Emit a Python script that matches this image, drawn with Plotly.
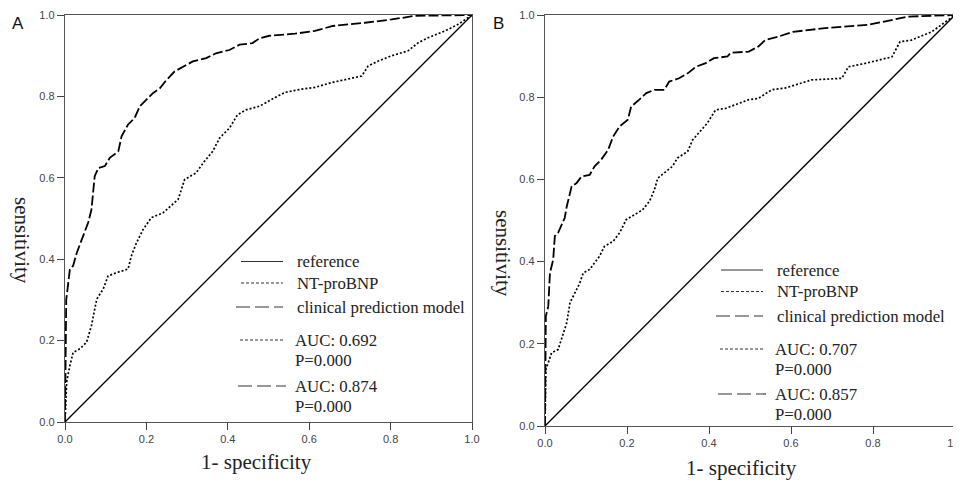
import plotly.graph_objects as go

# ---------------- data ----------------
# Panel A
a_clin_fpr = [0, 0.003, 0.012, 0.02, 0.029, 0.045, 0.057, 0.065, 0.073, 0.082, 0.098, 0.11, 0.131, 0.139,
              0.155, 0.171, 0.184, 0.2, 0.216, 0.233, 0.249, 0.269, 0.29, 0.314, 0.347, 0.371, 0.404, 0.429,
              0.461, 0.478, 0.502, 0.565, 0.614, 0.658, 0.737, 0.803, 0.86, 1.0]
a_clin_tpr = [0, 0.30, 0.375, 0.384, 0.416, 0.457, 0.49, 0.522, 0.604, 0.624, 0.629, 0.649, 0.665, 0.702,
              0.731, 0.747, 0.776, 0.792, 0.808, 0.82, 0.84, 0.861, 0.873, 0.886, 0.894, 0.906, 0.914, 0.927,
              0.931, 0.943, 0.949, 0.954, 0.961, 0.973, 0.981, 0.989, 0.998, 1.0]
a_nt_fpr = [0, 0.004, 0.012, 0.02, 0.037, 0.053, 0.065, 0.078, 0.094, 0.106, 0.127, 0.155, 0.163, 0.176,
            0.192, 0.212, 0.241, 0.261, 0.278, 0.294, 0.322, 0.343, 0.363, 0.38, 0.404, 0.424, 0.445, 0.478,
            0.502, 0.516, 0.541, 0.582, 0.614, 0.655, 0.729, 0.745, 0.77, 0.803, 0.843, 0.868, 0.892, 0.934,
            0.966, 1.0]
a_nt_tpr = [0, 0.098, 0.139, 0.171, 0.18, 0.196, 0.237, 0.302, 0.327, 0.359, 0.367, 0.376, 0.408, 0.441,
            0.473, 0.502, 0.514, 0.531, 0.547, 0.596, 0.612, 0.641, 0.665, 0.698, 0.722, 0.755, 0.767, 0.776,
            0.788, 0.797, 0.81, 0.818, 0.822, 0.834, 0.85, 0.875, 0.887, 0.9, 0.912, 0.932, 0.944, 0.961,
            0.977, 1.0]
a_auc = ["AUC: 0.692", "AUC: 0.874"]

# Panel B
b_clin_fpr = [0, 0.002, 0.008, 0.012, 0.02, 0.024, 0.032, 0.04, 0.048, 0.053, 0.065, 0.077, 0.089, 0.109,
              0.121, 0.137, 0.154, 0.166, 0.182, 0.202, 0.21, 0.23, 0.247, 0.267, 0.291, 0.303, 0.327, 0.348,
              0.368, 0.392, 0.412, 0.445, 0.453, 0.497, 0.52, 0.537, 0.568, 0.605, 0.65, 0.683, 0.788, 0.846,
              0.885, 1.0]
b_clin_tpr = [0, 0.267, 0.291, 0.372, 0.405, 0.462, 0.47, 0.486, 0.506, 0.534, 0.583, 0.591, 0.607, 0.611,
              0.632, 0.648, 0.672, 0.704, 0.729, 0.745, 0.777, 0.794, 0.81, 0.818, 0.818, 0.838, 0.846, 0.858,
              0.874, 0.883, 0.895, 0.899, 0.908, 0.911, 0.923, 0.939, 0.947, 0.959, 0.964, 0.968, 0.976, 0.988,
              0.996, 1.0]
b_nt_fpr = [0, 0.002, 0.008, 0.016, 0.032, 0.04, 0.053, 0.061, 0.073, 0.085, 0.093, 0.109, 0.121, 0.133,
            0.145, 0.166, 0.182, 0.198, 0.218, 0.238, 0.255, 0.267, 0.275, 0.291, 0.311, 0.323, 0.348, 0.36,
            0.372, 0.396, 0.416, 0.441, 0.473, 0.497, 0.52, 0.553, 0.585, 0.626, 0.65, 0.724, 0.74, 0.78,
            0.846, 0.866, 0.894, 0.943, 1.0]
b_nt_tpr = [0, 0.138, 0.154, 0.178, 0.186, 0.21, 0.251, 0.3, 0.324, 0.348, 0.372, 0.381, 0.397, 0.413,
            0.437, 0.449, 0.47, 0.502, 0.514, 0.526, 0.547, 0.575, 0.603, 0.615, 0.632, 0.652, 0.668, 0.696,
            0.709, 0.737, 0.769, 0.773, 0.785, 0.794, 0.797, 0.818, 0.822, 0.834, 0.842, 0.846, 0.874, 0.882,
            0.898, 0.935, 0.939, 0.959, 1.0]
b_auc = ["AUC: 0.707", "AUC: 0.857"]

ref_x = [0, 1]
ref_y = [0, 1]
ticks = [0, 0.2, 0.4, 0.6, 0.8, 1.0]
tick_text = ["0.0", "0.2", "0.4", "0.6", "0.8", "1.0"]
legend_names = ["reference", "NT-proBNP", "clinical prediction model"]
p_text = "P=0.000"
x_title = "1- specificity"
y_title = "sensitivity"
panel_labels = ["A", "B"]

# ---------------- figure ----------------
W, H = 961, 481
OFF = 8  # the page body offsets the figure by 8px
fig = go.Figure()

SERIF = "Liberation Serif, Times New Roman, serif"
SANS = "Liberation Sans, Arial, sans-serif"


def px_x(px):
    return (px - OFF) / W


def px_y(py):
    return 1 - (py - OFF) / H


panels = [
    dict(xa="x", ya="y", clin=(a_clin_fpr, a_clin_tpr), nt=(a_nt_fpr, a_nt_tpr), auc=a_auc),
    dict(xa="x2", ya="y2", clin=(b_clin_fpr, b_clin_tpr), nt=(b_nt_fpr, b_nt_tpr), auc=b_auc),
]

for p in panels:
    fig.add_trace(go.Scatter(x=ref_x, y=ref_y, mode="lines", xaxis=p["xa"], yaxis=p["ya"],
                             line=dict(color="black", width=1.3), showlegend=False, hoverinfo="skip"))
    fig.add_trace(go.Scatter(x=p["nt"][0], y=p["nt"][1], mode="lines", xaxis=p["xa"], yaxis=p["ya"],
                             line=dict(color="black", width=1.7, dash="2px,2px"), showlegend=False))
    fig.add_trace(go.Scatter(x=p["clin"][0], y=p["clin"][1], mode="lines", xaxis=p["xa"], yaxis=p["ya"],
                             line=dict(color="black", width=1.8, dash="10px,3px"), showlegend=False))

# pixel geometry of the two panels (target picture pixels)
geo = [
    dict(x0=65, x1=472, y0=422, y1=15),
    dict(x0=545, x1=955, y0=426, y1=15),
]

axis_common = dict(range=[0, 1], tickvals=ticks, ticktext=tick_text, showgrid=False, zeroline=False,
                   showline=True, linecolor="#555", linewidth=1.3, mirror=True, automargin=False,
                   ticks="outside", ticklen=7, tickwidth=1.2, tickcolor="#444",
                   ticklabeloverflow="allow",
                   tickfont=dict(family=SANS, size=11, color="#444"), fixedrange=True)

for i, g in enumerate(geo):
    sfx = "" if i == 0 else str(i + 1)
    fig.layout["xaxis" + sfx] = dict(axis_common, domain=[px_x(g["x0"]), px_x(g["x1"])], anchor="y" + sfx)
    fig.layout["yaxis" + sfx] = dict(axis_common, domain=[px_y(g["y0"]), px_y(g["y1"])], anchor="x" + sfx)

# legend blocks (text in pixel rows, converted to domain coords)
leg = [
    dict(line_x=(241, 283), text_x=295, auc_x=293,
         rows=[261.5, 283, 307, 340, 360, 386, 406]),
    dict(line_x=(721, 763), text_x=775, auc_x=773,
         rows=[270, 291.5, 316, 349, 369, 394, 414]),
]

annotations = []
shapes = []
for i, (g, lg, p) in enumerate(zip(geo, leg, panels)):
    sfx = "" if i == 0 else str(i + 1)
    xr, yr = "x" + sfx + " domain", "y" + sfx + " domain"

    def dx(px):
        return (px - g["x0"]) / (g["x1"] - g["x0"])

    def dy(py):
        return (g["y0"] - py) / (g["y0"] - g["y1"])

    texts = legend_names + [p["auc"][0], p_text, p["auc"][1], p_text]
    for k, t in enumerate(texts):
        tx = lg["text_x"] if k < 3 else lg["auc_x"]
        annotations.append(dict(xref=xr, yref=yr, x=dx(tx), y=dy(lg["rows"][k]), text=t, showarrow=False,
                                xanchor="left", yanchor="middle",
                                font=dict(family=SERIF, size=16.8, color="#222")))
    styles = {0: ("solid", 1.1, lg["line_x"][0]),
              1: ("3px,2px", 1.0, lg["line_x"][0]),
              2: ("14px,5px", 1.2, lg["line_x"][0] - 5),
              3: ("3px,2px", 1.0, lg["line_x"][0] - 1),
              5: ("14px,5px", 1.2, lg["line_x"][0] - 3)}
    for k, (dsh, w, xs) in styles.items():
        xe = lg["line_x"][1] + (3 if k == 5 else 0)
        shapes.append(dict(type="line", xref=xr, yref=yr, x0=dx(xs), x1=dx(xe),
                           y0=dy(lg["rows"][k]), y1=dy(lg["rows"][k]),
                           line=dict(color="#333", width=w, dash=dsh)))

annotations += [
    dict(xref="paper", yref="paper", x=px_x(257), y=px_y(462), text=x_title, showarrow=False,
         xanchor="center", yanchor="middle", font=dict(family=SERIF, size=21, color="#222")),
    dict(xref="paper", yref="paper", x=px_x(741), y=px_y(468), text=x_title, showarrow=False,
         xanchor="center", yanchor="middle", font=dict(family=SERIF, size=21, color="#222")),
    dict(xref="paper", yref="paper", x=px_x(22), y=px_y(240), text=y_title, showarrow=False, textangle=90,
         xanchor="center", yanchor="middle", font=dict(family=SERIF, size=21, color="#222")),
    dict(xref="paper", yref="paper", x=px_x(503), y=px_y(253), text=y_title, showarrow=False, textangle=90,
         xanchor="center", yanchor="middle", font=dict(family=SERIF, size=21, color="#222")),
    dict(xref="paper", yref="paper", x=px_x(18), y=px_y(23), text=panel_labels[0], showarrow=False,
         xanchor="center", yanchor="middle", font=dict(family=SANS, size=17, color="#111")),
    dict(xref="paper", yref="paper", x=px_x(498), y=px_y(23), text=panel_labels[1], showarrow=False,
         xanchor="center", yanchor="middle", font=dict(family=SANS, size=17, color="#111")),
]

fig.update_layout(width=W, height=H, margin=dict(l=0, r=0, t=0, b=0, pad=0, autoexpand=False),
                  paper_bgcolor="white", plot_bgcolor="white", showlegend=False,
                  annotations=annotations, shapes=shapes)

fig.write_html("out.html", config={"displayModeBar": False})
